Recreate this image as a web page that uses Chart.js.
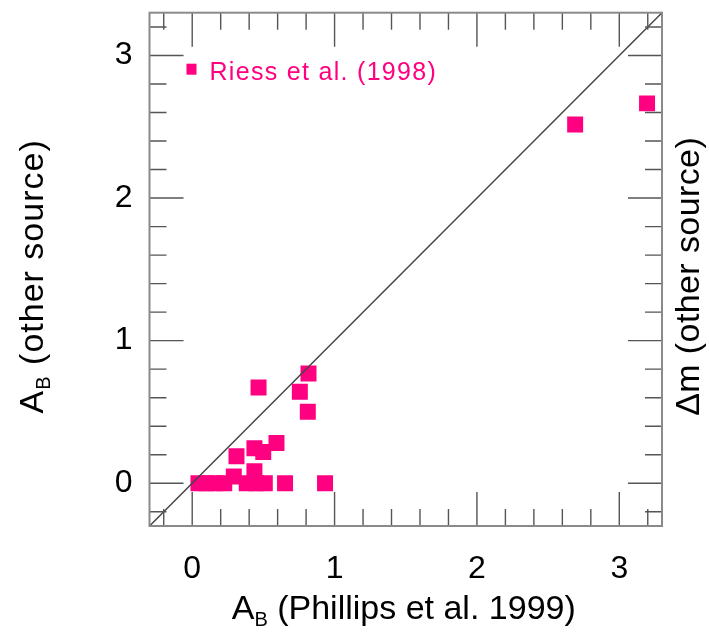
<!DOCTYPE html>
<html>
<head>
<meta charset="utf-8">
<script src="https://cdn.jsdelivr.net/npm/chart.js@4.4.1/dist/chart.umd.min.js"></script>
<style>
  html, body { margin: 0; padding: 0; background: #ffffff; }
  #wrap { width: 709px; height: 632px; }
</style>
</head>
<body>
<div id="wrap"><canvas id="c" width="709" height="632"></canvas></div>
<script>
// ---- data ----
const xValues = [0.044, 0.10, 0.16, 0.225, 0.383, 0.45, 0.51, 0.652, 0.933,
                 0.292, 0.437, 0.311, 0.499, 0.437, 0.592, 0.812, 0.756, 0.466, 0.817, 2.69, 3.195];
const yValues = [0, 0, 0, 0, 0, 0, 0, 0, 0,
                 0.047, 0.084, 0.189, 0.219, 0.245, 0.282, 0.501, 0.641, 0.671, 0.77, 2.516, 2.664];
const lineX = [-0.3, 3.3];
const lineY = [-0.3, 3.3];
const axisMin = -0.3, axisMax = 3.3;
const labelTicks = [0, 1, 2, 3];
const markTicks = [-0.2, 0, 0.2, 0.4, 0.6, 0.8, 1, 1.2, 1.4, 1.6, 1.8, 2, 2.2, 2.4, 2.6, 2.8, 3, 3.2];
const seriesName = 'Riess et al. (1998)';
const xTitle = ['A', 'B', ' (Phillips et al. 1999)'];
const yTitle = ['A', 'B', ' (other source)'];
const y2Title = 'Δm (other source)';

const PINK = '#ff0080';
const FONT = '"Liberation Sans", Arial, Helvetica, sans-serif';

const points = xValues.map((x, i) => ({ x: x, y: yValues[i] }));
const diag = lineX.map((x, i) => ({ x: x, y: lineY[i] }));

function setSpacing(ctx, v) { if ('letterSpacing' in ctx) ctx.letterSpacing = v; }

function drawSubTitle(ctx, parts, size, spacing) {
  const subSize = Math.round(size * 0.6);
  setSpacing(ctx, spacing);
  ctx.font = size + 'px ' + FONT;
  const w1 = ctx.measureText(parts[0]).width;
  const w3 = ctx.measureText(parts[2]).width;
  ctx.font = subSize + 'px ' + FONT;
  const w2 = ctx.measureText(parts[1]).width;
  const total = w1 + w2 + w3;
  let x = -total / 2;
  ctx.textBaseline = 'alphabetic';
  ctx.textAlign = 'left';
  ctx.font = size + 'px ' + FONT;
  ctx.fillText(parts[0], x, 0); x += w1;
  ctx.font = subSize + 'px ' + FONT;
  ctx.fillText(parts[1], x, size * 0.22); x += w2;
  ctx.font = size + 'px ' + FONT;
  ctx.fillText(parts[2], x, 0);
  setSpacing(ctx, '0px');
}

const framePlugin = {
  id: 'frame',
  afterDraw(chart) {
    const ctx = chart.ctx;
    const a = chart.chartArea;
    const xs = chart.scales.x, ys = chart.scales.y;
    ctx.save();
    // ticks
    ctx.strokeStyle = '#555555';
    ctx.lineWidth = 1.4;
    ctx.beginPath();
    markTicks.forEach(v => {
      const major = Math.abs(v - Math.round(v)) < 1e-6;
      const len = major ? 34 : 17;
      const px = xs.getPixelForValue(v);
      ctx.moveTo(px, a.bottom); ctx.lineTo(px, a.bottom - len);
      ctx.moveTo(px, a.top); ctx.lineTo(px, a.top + len);
      const py = ys.getPixelForValue(v);
      ctx.moveTo(a.left, py); ctx.lineTo(a.left + len, py);
      ctx.moveTo(a.right, py); ctx.lineTo(a.right - len, py);
    });
    ctx.stroke();
    // frame
    ctx.strokeStyle = '#8a8a8a';
    ctx.lineWidth = 2;
    ctx.strokeRect(a.left, a.top, a.right - a.left, a.bottom - a.top);

    // legend
    ctx.fillStyle = PINK;
    ctx.fillRect(a.left + 37, a.top + 51, 10, 11);
    ctx.font = '25px ' + FONT;
    setSpacing(ctx, '1.3px');
    ctx.textBaseline = 'alphabetic';
    ctx.textAlign = 'left';
    ctx.fillText(seriesName, a.left + 60, a.top + 67);
    setSpacing(ctx, '0px');

    // titles
    ctx.fillStyle = '#000000';
    const cx = (a.left + a.right) / 2;
    const cy = (a.top + a.bottom) / 2;
    ctx.save();
    ctx.translate(cx - 2, 619);
    drawSubTitle(ctx, xTitle, 34, '0px');
    ctx.restore();

    ctx.save();
    ctx.translate(43, cy + 7);
    ctx.rotate(-Math.PI / 2);
    drawSubTitle(ctx, yTitle, 34, '1px');
    ctx.restore();

    ctx.save();
    ctx.translate(699, cy + 7);
    ctx.rotate(-Math.PI / 2);
    ctx.font = '34px ' + FONT;
    setSpacing(ctx, '0.4px');
    ctx.textAlign = 'center';
    ctx.textBaseline = 'alphabetic';
    ctx.fillText(y2Title, 0, 0);
    setSpacing(ctx, '0px');
    ctx.restore();

    ctx.restore();
  }
};

function noPad(s) {
  s.paddingTop = 0; s.paddingBottom = 0; s.paddingLeft = 0; s.paddingRight = 0;
}

new Chart(document.getElementById('c'), {
  type: 'scatter',
  data: {
    datasets: [
      {
        type: 'line',
        data: diag,
        borderColor: '#444444',
        borderWidth: 1.5,
        pointRadius: 0,
        fill: false,
        order: 0
      },
      {
        data: points,
        pointStyle: 'rect',
        pointRadius: 11.3,
        pointHoverRadius: 11.3,
        backgroundColor: PINK,
        borderWidth: 0,
        order: 1
      }
    ]
  },
  plugins: [framePlugin],
  options: {
    responsive: false,
    animation: false,
    events: [],
    layout: { padding: { top: 12.7, right: 0, left: 0, bottom: 0 } },
    plugins: { legend: { display: false }, tooltip: { enabled: false } },
    scales: {
      x: {
        type: 'linear', position: 'bottom', min: axisMin, max: axisMax,
        grid: { display: false, drawTicks: false },
        border: { display: false },
        afterBuildTicks: s => { s.ticks = labelTicks.map(v => ({ value: v })); },
        afterFit: s => { s.height = 106; noPad(s); },
        ticks: { color: '#000', font: { family: FONT, size: 32 }, padding: 24, maxRotation: 0, callback: v => String(v) }
      },
      y: {
        type: 'linear', position: 'left', min: axisMin, max: axisMax,
        grid: { display: false, drawTicks: false },
        border: { display: false },
        afterBuildTicks: s => { s.ticks = labelTicks.map(v => ({ value: v })); },
        afterFit: s => { s.width = 149.5; noPad(s); },
        ticks: { color: '#000', font: { family: FONT, size: 32 }, padding: 17, callback: v => String(v) }
      },
      y2: {
        type: 'linear', position: 'right', min: axisMin, max: axisMax,
        grid: { display: false, drawTicks: false },
        border: { display: false },
        ticks: { display: false },
        afterFit: s => { s.width = 47; noPad(s); }
      }
    }
  }
});
</script>
</body>
</html>
